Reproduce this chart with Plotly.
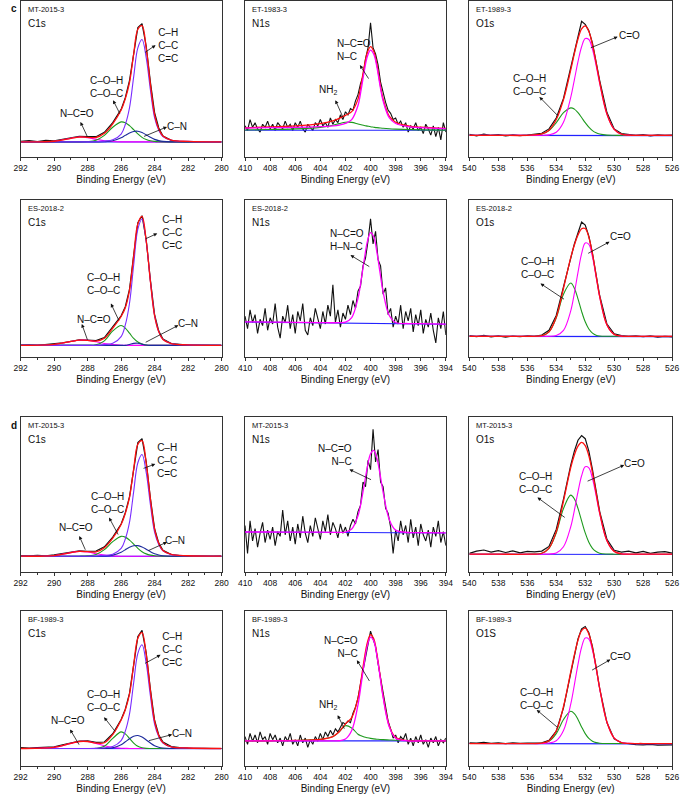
import plotly.graph_objects as go

# energy grids (eV)
c1s_x = [292, 290, 289, 288.5, 288, 287.5, 287, 286.5, 286, 285.75, 285.5, 285.25,
         285, 284.75, 284.5, 284.25, 284, 283.75, 283.5, 283, 282, 280]
c1s_raw_x = [292, 291.5, 291, 290.5, 290, 289.5, 289, 288.5, 288, 287.5, 287, 286.5,
             286, 285.75, 285.5, 285.25, 285, 284.75, 284.5, 284.25, 284, 283.75,
             283.5, 283, 282.5, 282, 281.5, 281, 280.5, 280]
c1s_base_x = [292, 280]

o1s_x = [540, 538, 536, 535, 534.5, 534, 533.5, 533, 532.75, 532.5, 532.25, 532,
         531.75, 531.5, 531.25, 531, 530.5, 530, 529.5, 529, 528, 526]
o1s_raw_x = [540, 539.5, 539, 538.5, 538, 537.5, 537, 536.5, 536, 535.5, 535, 534.5,
             534, 533.5, 533, 532.75, 532.5, 532.25, 532, 531.75, 531.5, 531.25, 531,
             530.5, 530, 529.5, 529, 528.5, 528, 527.5, 527, 526.5, 526]
o1s_base_x = [540, 526]

n1s_x = [410, 408, 406, 404, 403, 402.5, 402, 401.5, 401, 400.75, 400.5, 400.25,
         400, 399.75, 399.5, 399.25, 399, 398.5, 398, 397, 396, 394]
n1s_raw_x = [410.0, 409.8, 409.6, 409.4, 409.2, 409.0, 408.8, 408.6, 408.4, 408.2,
             408.0, 407.8, 407.6, 407.4, 407.2, 407.0, 406.8, 406.6, 406.4, 406.2,
             406.0, 405.8, 405.6, 405.4, 405.2, 405.0, 404.8, 404.6, 404.4, 404.2,
             404.0, 403.8, 403.6, 403.4, 403.2, 403.0, 402.8, 402.6, 402.4, 402.2,
             402.0, 401.8, 401.6, 401.4, 401.2, 401.0, 400.8, 400.6, 400.4, 400.2,
             400.0, 399.8, 399.6, 399.4, 399.2, 399.0, 398.8, 398.6, 398.4, 398.2,
             398.0, 397.8, 397.6, 397.4, 397.2, 397.0, 396.8, 396.6, 396.4, 396.2,
             396.0, 395.8, 395.6, 395.4, 395.2, 395.0, 394.8, 394.6, 394.4, 394.2, 394.0]
n1s_base_x = [410, 394]

# ---- C1s, row 1 (MT-2015-3) ----
c1_raw = [0.1, 0.105, 0.098, 0.107, 0.104, 0.115, 0.125, 0.133, 0.131, 0.13, 0.158, 0.22,
          0.305, 0.38, 0.49, 0.67, 0.83, 0.855, 0.71, 0.48, 0.285, 0.186, 0.135, 0.107,
          0.099, 0.097, 0.096, 0.097, 0.095, 0.096]
c1_env = [0.097, 0.101, 0.12, 0.128, 0.126, 0.125, 0.152, 0.213, 0.301, 0.373, 0.476, 0.659,
          0.819, 0.842, 0.696, 0.466, 0.272, 0.18, 0.134, 0.108, 0.1, 0.097]
c1_cc = [0.097, 0.097, 0.097, 0.097, 0.097, 0.098, 0.102, 0.11, 0.147, 0.208, 0.315, 0.514,
         0.7, 0.753, 0.636, 0.43, 0.252, 0.171, 0.131, 0.107, 0.1, 0.097]
c1_coh = [0.097, 0.097, 0.097, 0.097, 0.099, 0.108, 0.139, 0.191, 0.225, 0.22, 0.201, 0.175,
          0.148, 0.126, 0.112, 0.104, 0.1, 0.098, 0.097, 0.097, 0.097, 0.097]
c1_cn = [0.097, 0.097, 0.097, 0.097, 0.097, 0.097, 0.098, 0.104, 0.123, 0.139, 0.154, 0.164,
         0.165, 0.157, 0.142, 0.126, 0.113, 0.105, 0.1, 0.097, 0.097, 0.097]
c1_nco = [0.097, 0.101, 0.12, 0.128, 0.124, 0.113, 0.104, 0.099, 0.097, 0.097, 0.097, 0.097,
          0.097, 0.097, 0.097, 0.097, 0.097, 0.097, 0.097, 0.097, 0.097, 0.097]
c1_base = [0.097, 0.096]

# ---- C1s, row 2 (ES-2018-2) ----
c2_raw = [0.075, 0.078, 0.074, 0.079, 0.082, 0.09, 0.1, 0.109, 0.108, 0.104, 0.124, 0.19,
          0.262, 0.32, 0.43, 0.65, 0.855, 0.9, 0.745, 0.49, 0.27, 0.165, 0.114, 0.086,
          0.079, 0.076, 0.075, 0.074, 0.073, 0.074]
c2_env = [0.074, 0.08, 0.099, 0.107, 0.106, 0.101, 0.12, 0.184, 0.258, 0.314, 0.425, 0.643,
          0.849, 0.895, 0.739, 0.482, 0.264, 0.161, 0.112, 0.085, 0.077, 0.074]
c2_cc = [0.074, 0.074, 0.074, 0.074, 0.074, 0.074, 0.079, 0.087, 0.13, 0.204, 0.341, 0.586,
         0.814, 0.879, 0.735, 0.482, 0.264, 0.161, 0.112, 0.085, 0.077, 0.074]
c2_coh = [0.074, 0.074, 0.074, 0.074, 0.074, 0.078, 0.103, 0.166, 0.201, 0.184, 0.152, 0.118,
          0.095, 0.082, 0.076, 0.074, 0.074, 0.074, 0.074, 0.074, 0.074, 0.074]
c2_cn = [0.074, 0.074, 0.074, 0.074, 0.074, 0.074, 0.074, 0.074, 0.074, 0.074, 0.08, 0.087,
         0.088, 0.082, 0.076, 0.074, 0.074, 0.074, 0.074, 0.074, 0.074, 0.074]
c2_nco = [0.074, 0.08, 0.099, 0.107, 0.106, 0.097, 0.086, 0.079, 0.075, 0.074, 0.074, 0.074,
          0.074, 0.074, 0.074, 0.074, 0.074, 0.074, 0.074, 0.074, 0.074, 0.074]
c2_base = [0.074, 0.073]

# ---- C1s, row 3 (MT-2015-3) ----
c3_raw = [0.106, 0.104, 0.108, 0.105, 0.11, 0.118, 0.128, 0.136, 0.134, 0.135, 0.162, 0.225,
          0.31, 0.383, 0.485, 0.67, 0.835, 0.86, 0.71, 0.475, 0.28, 0.186, 0.14, 0.113,
          0.106, 0.105, 0.103, 0.102, 0.101, 0.102]
c3_env = [0.102, 0.106, 0.125, 0.133, 0.131, 0.13, 0.157, 0.218, 0.306, 0.378, 0.481, 0.664,
          0.824, 0.847, 0.701, 0.471, 0.277, 0.185, 0.139, 0.113, 0.105, 0.102]
c3_cc = [0.102, 0.102, 0.102, 0.102, 0.102, 0.103, 0.107, 0.115, 0.152, 0.213, 0.32, 0.519,
         0.705, 0.758, 0.641, 0.435, 0.257, 0.176, 0.136, 0.112, 0.105, 0.102]
c3_coh = [0.102, 0.102, 0.102, 0.102, 0.104, 0.113, 0.144, 0.196, 0.23, 0.225, 0.206, 0.18,
          0.153, 0.131, 0.117, 0.109, 0.105, 0.103, 0.102, 0.102, 0.102, 0.102]
c3_cn = [0.102, 0.102, 0.102, 0.102, 0.102, 0.102, 0.103, 0.109, 0.128, 0.144, 0.159, 0.169,
         0.17, 0.162, 0.147, 0.131, 0.118, 0.11, 0.105, 0.102, 0.102, 0.102]
c3_nco = [0.102, 0.106, 0.125, 0.133, 0.129, 0.118, 0.109, 0.104, 0.102, 0.102, 0.102, 0.102,
          0.102, 0.102, 0.102, 0.102, 0.102, 0.102, 0.102, 0.102, 0.102, 0.102]
c3_base = [0.102, 0.101]

# ---- C1s, row 4 (BF-1989-3) ----
c4_raw = [0.118, 0.115, 0.119, 0.121, 0.124, 0.137, 0.15, 0.16, 0.162, 0.152, 0.155, 0.208,
          0.3, 0.366, 0.468, 0.66, 0.835, 0.875, 0.73, 0.495, 0.295, 0.2, 0.154, 0.125,
          0.118, 0.116, 0.115, 0.114, 0.113, 0.113]
c4_env = [0.113, 0.12, 0.146, 0.158, 0.158, 0.148, 0.15, 0.203, 0.297, 0.363, 0.463, 0.652,
          0.825, 0.861, 0.718, 0.487, 0.289, 0.197, 0.151, 0.123, 0.116, 0.113]
c4_cc = [0.113, 0.113, 0.113, 0.113, 0.113, 0.114, 0.118, 0.126, 0.164, 0.225, 0.335, 0.538,
         0.727, 0.782, 0.662, 0.452, 0.271, 0.189, 0.148, 0.123, 0.116, 0.113]
c4_coh = [0.113, 0.113, 0.113, 0.113, 0.113, 0.114, 0.127, 0.178, 0.22, 0.207, 0.178, 0.148,
          0.127, 0.118, 0.114, 0.113, 0.113, 0.113, 0.113, 0.113, 0.113, 0.113]
c4_cn = [0.113, 0.113, 0.113, 0.113, 0.113, 0.113, 0.113, 0.118, 0.137, 0.156, 0.176, 0.192,
         0.197, 0.187, 0.168, 0.148, 0.131, 0.121, 0.116, 0.113, 0.113, 0.113]
c4_nco = [0.113, 0.12, 0.146, 0.158, 0.158, 0.146, 0.131, 0.12, 0.115, 0.114, 0.113, 0.113,
          0.113, 0.113, 0.113, 0.113, 0.113, 0.113, 0.113, 0.113, 0.113, 0.113]
c4_base = [0.113, 0.112]

# ---- N1s ----
n1_raw = [0.20, 0.17, 0.24, 0.19, 0.22, 0.18, 0.16, 0.21, 0.19, 0.23,
          0.18, 0.21, 0.17, 0.22, 0.20, 0.18, 0.23, 0.19, 0.21, 0.17,
          0.22, 0.19, 0.23, 0.18, 0.16, 0.21, 0.19, 0.17, 0.22, 0.20,
          0.24, 0.20, 0.22, 0.19, 0.25, 0.21, 0.24, 0.22, 0.27, 0.24,
          0.29, 0.27, 0.31, 0.30, 0.36, 0.40, 0.47, 0.52, 0.63, 0.70,
          0.86, 0.70, 0.66, 0.59, 0.48, 0.41, 0.35, 0.30, 0.28, 0.24,
          0.25, 0.21, 0.23, 0.19, 0.22, 0.16, 0.20, 0.18, 0.22, 0.17,
          0.19, 0.15, 0.21, 0.18, 0.14, 0.20, 0.13, 0.19, 0.11, 0.22, 0.16]
n1_env = [0.187, 0.193, 0.199, 0.214, 0.232, 0.248, 0.267, 0.291, 0.371, 0.466, 0.581, 0.672,
          0.708, 0.68, 0.597, 0.475, 0.373, 0.26, 0.223, 0.2, 0.191, 0.183]
n1_main = [0.185, 0.188, 0.19, 0.195, 0.2, 0.205, 0.215, 0.24, 0.33, 0.43, 0.55, 0.645,
           0.685, 0.66, 0.58, 0.46, 0.36, 0.25, 0.215, 0.195, 0.188, 0.182]
n1_nh2 = [0.173, 0.176, 0.18, 0.19, 0.203, 0.214, 0.223, 0.222, 0.212, 0.207, 0.202, 0.198,
          0.194, 0.191, 0.188, 0.186, 0.184, 0.181, 0.179, 0.176, 0.174, 0.172]
n1_base = [0.171, 0.171]

n2_raw = [0.26, 0.18, 0.30, 0.22, 0.27, 0.15, 0.24, 0.20, 0.31, 0.17,
          0.25, 0.21, 0.34, 0.19, 0.12, 0.26, 0.22, 0.33, 0.18, 0.27,
          0.15, 0.29, 0.23, 0.34, 0.17, 0.14, 0.25, 0.20, 0.31, 0.24,
          0.18, 0.29, 0.21, 0.33, 0.26, 0.46, 0.22, 0.30, 0.19, 0.28,
          0.24, 0.33, 0.27, 0.36, 0.31, 0.42, 0.45, 0.58, 0.63, 0.74,
          0.88, 0.72, 0.80, 0.62, 0.58, 0.40, 0.44, 0.27, 0.31, 0.19,
          0.26, 0.21, 0.33, 0.18, 0.29, 0.23, 0.31, 0.16, 0.27, 0.20,
          0.30, 0.15, 0.24, 0.19, 0.28, 0.17, 0.09, 0.25, 0.18, 0.29, 0.14]
n2_main = [0.224, 0.222, 0.221, 0.219, 0.218, 0.219, 0.222, 0.251, 0.374, 0.488, 0.62, 0.736,
           0.792, 0.767, 0.671, 0.54, 0.415, 0.263, 0.22, 0.213, 0.212, 0.209]
n2_base = [0.223, 0.209]

n3_raw = [0.30, 0.12, 0.33, 0.20, 0.28, 0.16, 0.25, 0.32, 0.19, 0.27,
          0.21, 0.29, 0.17, 0.26, 0.23, 0.40, 0.24, 0.33, 0.20, 0.29,
          0.18, 0.31, 0.22, 0.36, 0.25, 0.19, 0.30, 0.23, 0.35, 0.27,
          0.21, 0.33, 0.26, 0.37, 0.24, 0.32, 0.28, 0.22, 0.31, 0.25,
          0.29, 0.23, 0.30, 0.34, 0.31, 0.39, 0.43, 0.58, 0.55, 0.72,
          0.66, 0.92, 0.71, 0.79, 0.58, 0.55, 0.41, 0.38, 0.29, 0.12,
          0.27, 0.20, 0.33, 0.24, 0.30, 0.19, 0.34, 0.22, 0.29, 0.17,
          0.31, 0.24, 0.20, 0.27, 0.16, 0.29, 0.23, 0.33, 0.19, 0.26, 0.17]
n3_main = [0.258, 0.258, 0.257, 0.257, 0.256, 0.256, 0.258, 0.277, 0.363, 0.451, 0.564, 0.679,
           0.763, 0.785, 0.736, 0.635, 0.516, 0.337, 0.27, 0.255, 0.254, 0.252]
n3_base = [0.258, 0.252]

n4_raw = [0.19, 0.14, 0.21, 0.16, 0.20, 0.15, 0.22, 0.17, 0.19, 0.14,
          0.21, 0.17, 0.20, 0.15, 0.18, 0.13, 0.19, 0.16, 0.21, 0.14,
          0.17, 0.13, 0.20, 0.15, 0.18, 0.12, 0.17, 0.14, 0.19, 0.16,
          0.21, 0.17, 0.22, 0.19, 0.23, 0.20, 0.24, 0.22, 0.25, 0.28,
          0.27, 0.29, 0.28, 0.34, 0.38, 0.44, 0.53, 0.62, 0.71, 0.79,
          0.87, 0.82, 0.77, 0.66, 0.57, 0.47, 0.38, 0.29, 0.24, 0.18,
          0.20, 0.15, 0.19, 0.17, 0.21, 0.14, 0.18, 0.13, 0.19, 0.15,
          0.20, 0.14, 0.17, 0.12, 0.18, 0.15, 0.19, 0.13, 0.17, 0.15, 0.18]
n4_env = [0.162, 0.163, 0.165, 0.172, 0.19, 0.221, 0.272, 0.312, 0.438, 0.558, 0.69, 0.798,
          0.848, 0.822, 0.726, 0.591, 0.452, 0.257, 0.183, 0.164, 0.163, 0.162]
n4_main = [0.162, 0.162, 0.162, 0.162, 0.162, 0.163, 0.174, 0.229, 0.395, 0.525, 0.665, 0.778,
           0.832, 0.809, 0.715, 0.582, 0.444, 0.251, 0.179, 0.162, 0.162, 0.162]
n4_nh2 = [0.162, 0.163, 0.165, 0.172, 0.19, 0.22, 0.26, 0.245, 0.205, 0.195, 0.187, 0.182,
          0.178, 0.175, 0.173, 0.171, 0.17, 0.168, 0.166, 0.164, 0.163, 0.162]
n4_base = [0.162, 0.162]

# ---- O1s ----
o1_raw = [0.145, 0.136, 0.147, 0.138, 0.144, 0.135, 0.142, 0.137, 0.141, 0.145, 0.152, 0.18,
          0.25, 0.375, 0.565, 0.675, 0.77, 0.87, 0.85, 0.81, 0.73, 0.61, 0.49, 0.285, 0.18,
          0.15, 0.145, 0.139, 0.143, 0.136, 0.142, 0.138, 0.14]
o1_env = [0.139, 0.139, 0.139, 0.148, 0.172, 0.24, 0.368, 0.558, 0.663, 0.756, 0.821, 0.84,
          0.805, 0.72, 0.604, 0.479, 0.275, 0.177, 0.146, 0.14, 0.139, 0.139]
o1_co = [0.139, 0.139, 0.139, 0.139, 0.142, 0.159, 0.223, 0.382, 0.495, 0.611, 0.707, 0.759,
         0.753, 0.69, 0.588, 0.471, 0.274, 0.177, 0.146, 0.14, 0.139, 0.139]
o1_coh = [0.139, 0.139, 0.139, 0.147, 0.169, 0.22, 0.284, 0.315, 0.307, 0.284, 0.253, 0.22,
          0.191, 0.169, 0.155, 0.147, 0.14, 0.139, 0.139, 0.139, 0.139, 0.139]
o1_base = [0.139, 0.137]

o2_raw = [0.136, 0.13, 0.138, 0.128, 0.135, 0.127, 0.133, 0.129, 0.134, 0.131, 0.14, 0.17,
          0.265, 0.445, 0.64, 0.72, 0.79, 0.86, 0.84, 0.77, 0.66, 0.525, 0.39, 0.21, 0.148,
          0.136, 0.131, 0.135, 0.129, 0.134, 0.127, 0.132, 0.128]
o2_env = [0.132, 0.132, 0.132, 0.136, 0.16, 0.254, 0.438, 0.633, 0.713, 0.777, 0.817, 0.818,
          0.763, 0.657, 0.519, 0.384, 0.204, 0.144, 0.133, 0.132, 0.132, 0.132]
o2_co = [0.132, 0.132, 0.132, 0.132, 0.132, 0.137, 0.17, 0.294, 0.407, 0.539, 0.658, 0.726,
         0.717, 0.637, 0.512, 0.382, 0.204, 0.144, 0.133, 0.132, 0.132, 0.132]
o2_coh = [0.132, 0.132, 0.132, 0.136, 0.16, 0.249, 0.4, 0.471, 0.438, 0.37, 0.291, 0.224,
          0.178, 0.152, 0.139, 0.134, 0.132, 0.132, 0.132, 0.132, 0.132, 0.132]
o2_base = [0.132, 0.13]

o3_raw = [0.12, 0.135, 0.142, 0.128, 0.138, 0.126, 0.136, 0.124, 0.133, 0.13, 0.135, 0.165,
          0.275, 0.47, 0.69, 0.78, 0.85, 0.88, 0.86, 0.78, 0.66, 0.52, 0.39, 0.21, 0.14,
          0.128, 0.135, 0.124, 0.133, 0.12, 0.128, 0.131, 0.122]
o3_env = [0.115, 0.115, 0.115, 0.121, 0.154, 0.26, 0.458, 0.673, 0.755, 0.812, 0.836, 0.816,
          0.749, 0.641, 0.511, 0.382, 0.202, 0.133, 0.117, 0.115, 0.115, 0.115]
o3_co = [0.115, 0.115, 0.115, 0.115, 0.116, 0.123, 0.163, 0.292, 0.398, 0.517, 0.621, 0.679,
         0.672, 0.603, 0.494, 0.376, 0.201, 0.133, 0.117, 0.115, 0.115, 0.115]
o3_coh = [0.115, 0.115, 0.115, 0.121, 0.153, 0.252, 0.41, 0.496, 0.472, 0.41, 0.33, 0.252,
          0.192, 0.153, 0.132, 0.121, 0.116, 0.115, 0.115, 0.115, 0.115, 0.115]
o3_base = [0.115, 0.113]

o4_raw = [0.15, 0.147, 0.152, 0.146, 0.149, 0.145, 0.15, 0.146, 0.148, 0.147, 0.15, 0.165,
          0.225, 0.375, 0.6, 0.72, 0.82, 0.885, 0.9, 0.86, 0.77, 0.64, 0.5, 0.28, 0.175,
          0.15, 0.142, 0.138, 0.136, 0.139, 0.135, 0.137, 0.136]
o4_env = [0.145, 0.145, 0.145, 0.147, 0.163, 0.227, 0.384, 0.607, 0.717, 0.811, 0.873, 0.89,
          0.852, 0.762, 0.637, 0.5, 0.282, 0.18, 0.151, 0.146, 0.145, 0.145]
o4_co = [0.145, 0.145, 0.145, 0.145, 0.148, 0.163, 0.229, 0.399, 0.524, 0.656, 0.766, 0.826,
         0.819, 0.747, 0.631, 0.498, 0.282, 0.18, 0.151, 0.146, 0.145, 0.145]
o4_coh = [0.145, 0.145, 0.145, 0.147, 0.16, 0.209, 0.3, 0.353, 0.338, 0.3, 0.252, 0.209,
          0.178, 0.16, 0.151, 0.147, 0.145, 0.145, 0.145, 0.145, 0.145, 0.145]
o4_base = [0.145, 0.143]

samples = ["MT-2015-3", "ET-1983-3", "ET-1989-3",
           "ES-2018-2", "ES-2018-2", "ES-2018-2",
           "MT-2015-3", "MT-2015-3", "MT-2015-3",
           "BF-1989-3", "BF-1989-3", "BF-1989-3"]
cores = ["C1s", "N1s", "O1s"] * 3 + ["C1s", "N1s", "O1S"]

BLACK = "#111111"
RED = "#ff1010"
MAG = "#ff00ff"
GREEN = "#1e9a1e"
VIOLET = "#7a2cff"
NAVY = "#1c2a9c"
BLUE = "#2222ff"
FONT = "Liberation Sans, Arial, sans-serif"

fig = go.Figure()


def ax(k):
    return ("x", "y") if k == 1 else (f"x{k}", f"y{k}")


def line(k, x, y, color, shape="spline", width=1.1):
    xa, ya = ax(k)
    fig.add_trace(go.Scatter(x=x, y=y, mode="lines", xaxis=xa, yaxis=ya,
                             line=dict(color=color, width=width, shape=shape),
                             showlegend=False, hoverinfo="skip"))


c1s_sets = [(1, c1_raw, c1_base, c1_nco, c1_coh, c1_cn, c1_cc, c1_env),
            (4, c2_raw, c2_base, c2_nco, c2_coh, c2_cn, c2_cc, c2_env),
            (7, c3_raw, c3_base, c3_nco, c3_coh, c3_cn, c3_cc, c3_env),
            (10, c4_raw, c4_base, c4_nco, c4_coh, c4_cn, c4_cc, c4_env)]
for k, raw, base, nco, coh, cn, cc, env in c1s_sets:
    line(k, c1s_raw_x, raw, BLACK, shape="linear", width=1.2)
    line(k, c1s_base_x, base, BLUE, shape="linear")
    line(k, c1s_x, nco, MAG)
    line(k, c1s_x, coh, GREEN)
    line(k, c1s_x, cn, NAVY)
    line(k, c1s_x, cc, VIOLET)
    line(k, c1s_x, env, RED, width=1.3)

o1s_sets = [(3, o1_raw, o1_base, o1_coh, o1_co, o1_env),
            (6, o2_raw, o2_base, o2_coh, o2_co, o2_env),
            (9, o3_raw, o3_base, o3_coh, o3_co, o3_env),
            (12, o4_raw, o4_base, o4_coh, o4_co, o4_env)]
for k, raw, base, coh, co, env in o1s_sets:
    line(k, o1s_raw_x, raw, BLACK, shape="linear", width=1.2)
    line(k, o1s_base_x, base, BLUE, shape="linear")
    line(k, o1s_x, coh, GREEN)
    line(k, o1s_x, co, MAG)
    line(k, o1s_x, env, RED, width=1.3)

for k, raw, base, nh2, main, env in [(2, n1_raw, n1_base, n1_nh2, n1_main, n1_env),
                                     (5, n2_raw, n2_base, None, n2_main, None),
                                     (8, n3_raw, n3_base, None, n3_main, None),
                                     (11, n4_raw, n4_base, n4_nh2, n4_main, n4_env)]:
    line(k, n1s_raw_x, raw, BLACK, shape="linear", width=1.1)
    line(k, n1s_base_x, base, BLUE, shape="linear")
    if nh2 is not None:
        line(k, n1s_x, nh2, GREEN)
        line(k, n1s_x, env, RED, width=1.3)
    line(k, n1s_x, main, MAG, width=1.3)

# panel frames (pixel boxes -> paper fractions)
W, H = 685, 794
cols = [(14, 219), (243, 448), (472, 679)]
rows = [(1, 157), (200, 357), (417, 572), (611, 766)]
xranges = [[292, 280], [410, 394], [540, 526]]

layout = dict(width=W, height=H, margin=dict(l=0, r=0, t=0, b=0),
              paper_bgcolor="white", plot_bgcolor="white",
              font=dict(family=FONT, color="#111"))
annotations = []
for r, (top, bot) in enumerate(rows):
    for c, (left, right) in enumerate(cols):
        k = r * 3 + c + 1
        sfx = "" if k == 1 else str(k)
        title = "Binding Energy (ev)" if k == 12 else "Binding Energy (eV)"
        layout["xaxis" + sfx] = dict(
            domain=[left / W, right / W], range=xranges[c], anchor="y" + sfx,
            dtick=2, ticks="outside", ticklen=3, tickwidth=1, tickcolor="#333",
            minor=dict(dtick=1, ticks="outside", ticklen=2, tickcolor="#333"),
            showline=True, mirror=True, linecolor="#333", linewidth=1,
            showgrid=False, zeroline=False,
            tickfont=dict(size=8.5, family=FONT, color="#111"),
            title=dict(text=title, font=dict(size=10, family=FONT), standoff=3))
        layout["yaxis" + sfx] = dict(
            domain=[1 - bot / H, 1 - top / H], range=[0, 1], anchor="x" + sfx,
            showticklabels=False, ticks="", showline=True, mirror=True,
            linecolor="#333", linewidth=1, showgrid=False, zeroline=False)
        annotations.append(dict(xref=f"x{sfx} domain", yref=f"y{sfx} domain",
                                x=0.025, y=0.985, xanchor="left", yanchor="top",
                                text=samples[k - 1], showarrow=False,
                                font=dict(size=7.5, family=FONT, color="#111")))
        annotations.append(dict(xref=f"x{sfx} domain", yref=f"y{sfx} domain",
                                x=0.025, y=0.905, xanchor="left", yanchor="top",
                                text=cores[k - 1], showarrow=False,
                                font=dict(size=10, family=FONT, color="#111")))


def label(k, text, x, y, anchor="center", align="center"):
    xa, ya = ax(k)
    annotations.append(dict(xref=xa, yref=ya, x=x, y=y, text=text, showarrow=False,
                            xanchor=anchor, yanchor="middle", align=align,
                            font=dict(size=10, family=FONT, color="#111")))


def arrow(k, hx, hy, tx, ty):
    xa, ya = ax(k)
    annotations.append(dict(xref=xa, yref=ya, axref=xa, ayref=ya, x=hx, y=hy,
                            ax=tx, ay=ty, text="", showarrow=True, arrowhead=2,
                            arrowsize=0.9, arrowwidth=0.8, arrowcolor="#111"))


CH = "C–H<br>C–C<br>C=C"
COH = "C–O–H<br>C–O–C"

# row 1
label(1, CH, 283.2, 0.717); arrow(1, 283.94, 0.717, 284.66, 0.664)
label(1, COH, 286.87, 0.45); arrow(1, 286.48, 0.364, 286.03, 0.268)
label(1, "N–C=O", 288.62, 0.278); arrow(1, 288.43, 0.225, 287.98, 0.122)
label(1, "C–N", 282.67, 0.197); arrow(1, 283.26, 0.193, 284.72, 0.128)
label(2, "N–C=O<br>N–C", 402.85, 0.685, anchor="left", align="left")
arrow(2, 400.85, 0.589, 400.08, 0.493)
label(2, "NH<sub>2</sub>", 403.37, 0.428); arrow(2, 402.8, 0.364, 402.15, 0.246)
label(3, "C=O", 528.97, 0.782); arrow(3, 529.76, 0.771, 531.72, 0.696)
label(3, COH, 535.84, 0.46); arrow(3, 535.16, 0.385, 533.81, 0.257)
# row 2
label(4, CH, 282.97, 0.791); arrow(4, 283.84, 0.787, 284.62, 0.749)
label(4, COH, 287.06, 0.468); arrow(4, 286.61, 0.34, 286.09, 0.223)
label(4, "N–C=O", 287.65, 0.238); arrow(4, 288.35, 0.21, 287.98, 0.1)
label(4, "C–N", 281.99, 0.213); arrow(4, 282.58, 0.202, 284.62, 0.089)
label(5, "N–C=O<br>H–N–C", 403.37, 0.745, anchor="left", align="left")
arrow(5, 401.6, 0.649, 399.98, 0.57)
label(6, "C=O", 529.53, 0.77); arrow(6, 530.32, 0.734, 531.9, 0.655)
label(6, COH, 535.27, 0.564); arrow(6, 535.09, 0.468, 533.36, 0.362)
# row 3
label(7, CH, 283.26, 0.719); arrow(7, 283.96, 0.697, 284.75, 0.665)
label(7, COH, 286.82, 0.448); arrow(7, 286.72, 0.351, 286.13, 0.232)
label(7, "N–C=O", 288.7, 0.286); arrow(7, 288.5, 0.232, 288.1, 0.134)
label(7, "C–N", 282.77, 0.206); arrow(7, 283.26, 0.193, 284.45, 0.134)
label(8, "N–C=O<br>N–C", 401.34, 0.757, anchor="right", align="right")
arrow(8, 401.68, 0.662, 399.84, 0.591)
label(9, "C=O", 528.63, 0.701); arrow(9, 529.31, 0.69, 531.94, 0.582)
label(9, COH, 535.43, 0.575); arrow(9, 535.3, 0.481, 533.31, 0.345)
# row 4
label(10, CH, 282.95, 0.749); arrow(10, 283.64, 0.717, 284.66, 0.657)
label(10, COH, 287.08, 0.418); arrow(10, 287.02, 0.315, 286.29, 0.214)
label(10, "N–C=O", 289.15, 0.293); arrow(10, 289.05, 0.236, 288.46, 0.128)
label(10, "C–N", 282.36, 0.208); arrow(10, 282.95, 0.203, 284.43, 0.161)
label(11, "N–C=O<br>N–C", 400.82, 0.765, anchor="right", align="right")
arrow(11, 401.09, 0.683, 400.02, 0.539)
label(11, "NH<sub>2</sub>", 403.37, 0.392); arrow(11, 402.62, 0.328, 402.03, 0.231)
label(12, "C=O", 529.58, 0.709); arrow(12, 530.26, 0.687, 531.63, 0.613)
label(12, COH, 535.39, 0.432); arrow(12, 535.35, 0.362, 533.8, 0.24)

# panel letters
annotations.append(dict(xref="paper", yref="paper", x=2 / W, y=1 - 1 / H,
                        xanchor="left", yanchor="top", text="<b>c</b>",
                        showarrow=False, font=dict(size=10, family=FONT)))
annotations.append(dict(xref="paper", yref="paper", x=2 / W, y=1 - 418 / H,
                        xanchor="left", yanchor="top", text="<b>d</b>",
                        showarrow=False, font=dict(size=10, family=FONT)))

layout["annotations"] = annotations
fig.update_layout(**layout)
# drop the browser's default body margin so the figure sits at the page corner
fig.write_html("out.html", config={"displayModeBar": False},
               post_script="document.body.style.margin='0px';")
